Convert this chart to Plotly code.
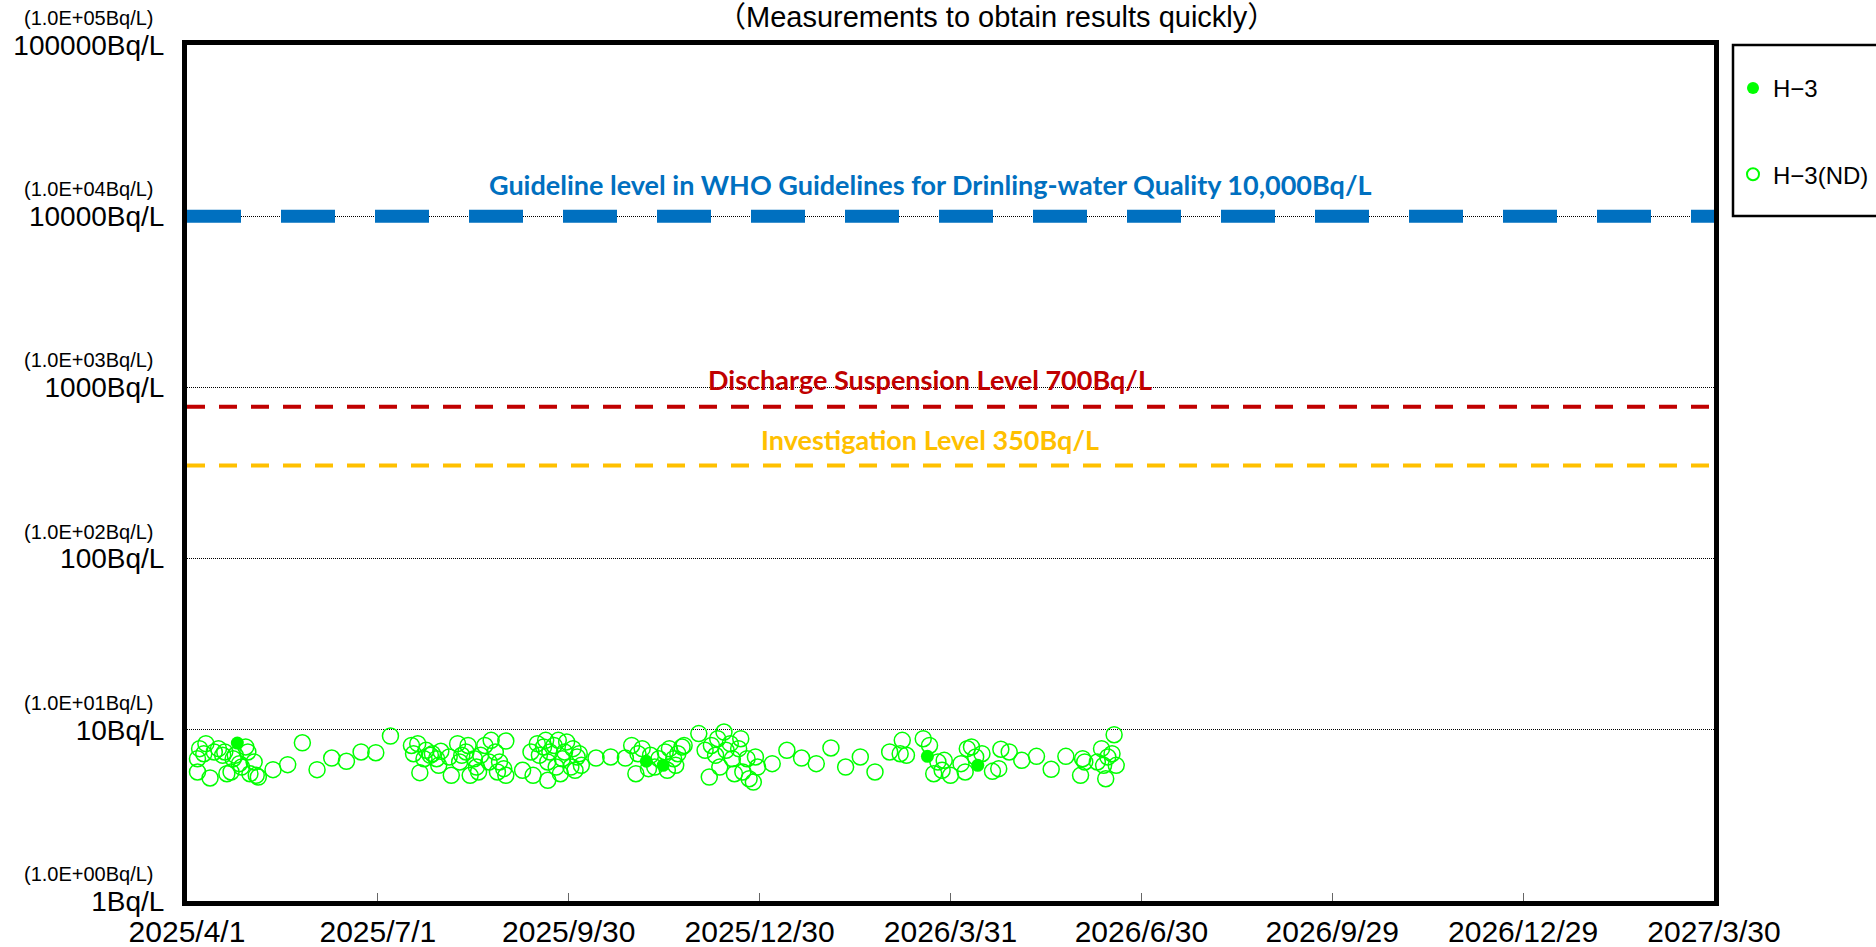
import plotly.graph_objects as go
import pandas as pd
import numpy as np

# ---------------- data ----------------
start_date = "2025-04-01"
end_date = "2027-03-30"

tick_dates = ["2025-04-01", "2025-07-01", "2025-09-30", "2025-12-30", "2026-03-31",
              "2026-06-30", "2026-09-29", "2026-12-29", "2027-03-30"]
tick_labels = ["2025/4/1", "2025/7/1", "2025/9/30", "2025/12/30", "2026/3/31",
               "2026/6/30", "2026/9/29", "2026/12/29", "2027/3/30"]

y_tick_vals = [1, 10, 100, 1000, 10000, 100000]
y_tick_main = ["1Bq/L", "10Bq/L", "100Bq/L", "1000Bq/L", "10000Bq/L", "100000Bq/L"]
y_tick_sub = ["(1.0E+00Bq/L)", "(1.0E+01Bq/L)", "(1.0E+02Bq/L)", "(1.0E+03Bq/L)",
              "(1.0E+04Bq/L)", "(1.0E+05Bq/L)"]

# H-3 (ND) : days since 2025/4/1 and Bq/L
nd_days = [5, 5, 6, 8, 9, 11, 13, 15, 17, 18, 19, 21, 22, 23, 25, 26, 28, 29, 30, 32, 33, 34,
           41, 48, 55, 62, 69, 76, 83, 90, 97,
           107, 108, 110, 111, 113, 114, 116, 117, 119, 120, 121, 125, 126, 129, 130, 131, 133,
           134, 135, 137, 138, 139, 140, 142, 144, 145, 147, 148,
           149, 151, 152, 152, 160, 164, 165, 167, 168, 170, 171, 172, 172, 173, 175, 176, 177,
           178, 179, 180, 181, 183, 184, 185, 186, 187, 188, 195, 202, 209,
           212, 214, 215, 217, 220, 221, 223, 225, 228, 229, 230, 232, 233, 234, 236, 237, 244,
           247, 249, 250, 252, 253, 254, 256, 257, 259, 260, 261, 263, 264, 265, 267, 268, 270,
           271, 272, 279, 286, 293,
           300, 307, 314, 321, 328, 335, 340, 341, 343, 351, 354, 356, 358, 360, 361, 364, 369,
           371, 372, 374, 376, 379, 384, 387, 388, 392, 398, 405, 412, 419, 426, 427, 428, 434,
           436, 437, 438, 439, 441, 442, 443]
nd_values = [6.78, 5.67, 7.76, 7.25, 8.3, 5.23, 7.42, 7.76, 7.1, 7.42, 5.54, 5.67, 6.78, 7.1,
             6.34, 6.06, 7.94, 7.42, 5.54, 6.49, 5.42, 5.3,
             5.85, 6.26, 8.4, 5.85, 6.84, 6.55, 7.42, 7.35, 9.2,
             8.1, 7.25, 8.3, 5.62, 6.78, 7.59, 7.1, 7.25, 6.78, 6.2, 7.49, 6.94, 5.42, 8.3, 6.49,
             7.1, 7.42, 8.1, 5.42, 6.78, 6.06, 5.67, 7.1, 8.1, 6.49, 8.68, 7.42, 5.67,
             6.49, 5.93, 5.42, 8.6, 5.8, 7.42, 5.42, 8.3, 7.1, 7.94, 8.68, 6.49, 5.07, 7.42, 8.1,
             6.06, 8.68, 5.54, 6.78, 7.42, 8.5, 6.06, 7.76, 5.8, 6.94, 7.25, 6.2, 6.84, 6.94, 6.84,
             8.1, 5.54, 7.25, 7.76, 5.93, 7.1, 6.06, 6.78, 7.42, 5.8, 7.76, 6.78, 6.2, 7.25, 7.94,
             8.1, 9.5,
             7.59, 5.3, 8.1, 7.1, 8.87, 6.06, 9.7, 7.59, 8.3, 6.78, 5.54, 7.76, 8.87, 5.67, 6.78,
             5.18, 4.95, 6.94, 6.06, 6.34, 7.59, 6.84,
             6.34, 7.83, 6.06, 6.94, 5.67, 7.42, 7.25, 8.68, 7.1, 8.87, 8.1, 5.54, 6.49, 5.8, 6.63,
             5.42, 6.34, 5.67, 7.76, 7.94, 6.94, 7.25, 5.72, 5.93, 7.7, 7.42, 6.63, 7.0, 5.88, 7.0,
             5.42, 6.78, 6.49, 6.49, 7.76, 6.2, 5.18, 6.94, 7.25, 9.36, 6.2]

# H-3 (detected)
det_days = [24, 219, 227, 353, 377]
det_values = [8.37, 6.55, 6.2, 7.0, 6.2]

# reference levels (position as drawn in the picture)
ref_levels = [10000, 770, 350]
ref_texts = ["Guideline level in WHO Guidelines for Drinling-water Quality 10,000Bq/L",
             "Discharge Suspension Level 700Bq/L",
             "Investigation Level 350Bq/L"]
ref_colors = ["#0070C0", "#C00000", "#FFC000"]
ref_widths = [13, 4, 4]
ref_dashes = ["54px,40px", "18px,14px", "18px,14px"]
ref_label_shift = [32, 27, 26]

title_text = "（Measurements to obtain results quickly）"

# ---------------- figure ----------------
W, H = 1876, 947
L, R, T, B = 187, 162, 45, 46
plot_w = W - L - R
plot_h = H - T - B

base = pd.Timestamp(start_date)
nd_dates = [base + pd.Timedelta(days=d) for d in nd_days]
det_dates = [base + pd.Timedelta(days=d) for d in det_days]

axis_font = "Arial, 'Liberation Sans', 'Noto Sans CJK JP', sans-serif"
label_font = "Lato, 'Open Sans', sans-serif"

fig = go.Figure()

for lvl, col, wd, ds in zip(ref_levels, ref_colors, ref_widths, ref_dashes):
    fig.add_trace(go.Scatter(
        x=[start_date, end_date], y=[lvl, lvl], mode="lines",
        line=dict(color=col, width=wd, dash=ds),
        showlegend=False, hoverinfo="skip"))

fig.add_trace(go.Scatter(
    x=nd_dates, y=nd_values, mode="markers", name="H−3(ND)",
    legendgroup="nd", legendrank=2,
    marker=dict(symbol="circle-open", size=16, color="#00FF00", line=dict(width=1.5, color="#00FF00"))))
fig.add_trace(go.Scatter(
    x=det_dates, y=det_values, mode="markers", name="H−3",
    legendgroup="det", legendrank=1,
    marker=dict(symbol="circle", size=13, color="#00FF00")))

annotations = []
for v, s in zip(y_tick_vals, y_tick_sub):
    annotations.append(dict(
        x=-0.02, xref="paper", xanchor="right",
        y=np.log10(v), yref="y", yanchor="middle", yshift=27,
        text=s, showarrow=False, font=dict(size=20, color="black", family=axis_font)))

for lvl, txt, col, sh in zip(ref_levels, ref_texts, ref_colors, ref_label_shift):
    annotations.append(dict(
        x=0.4866, xref="paper", xanchor="center",
        y=np.log10(lvl), yref="y", yanchor="middle", yshift=sh,
        text="<b>" + txt + "</b>", showarrow=False,
        font=dict(size=27, color=col, family=label_font)))

annotations.append(dict(
    x=(996 - L) / plot_w, xref="paper", xanchor="center",
    y=1 + (T - 17) / plot_h, yref="paper", yanchor="middle",
    text=title_text, showarrow=False,
    font=dict(size=29, color="black", family=axis_font)))

fig.update_layout(
    width=W, height=H,
    margin=dict(l=L, r=R, t=T, b=B, autoexpand=False),
    paper_bgcolor="white", plot_bgcolor="white",
    annotations=annotations,
    legend=dict(
        x=(1733 - L) / plot_w, xanchor="left",
        y=1 - 21 / plot_h, yanchor="top",
        bgcolor="rgba(0,0,0,0)", borderwidth=0,
        font=dict(size=24, color="black", family=axis_font),
        tracegroupgap=52, itemsizing="constant", traceorder="grouped"),
    shapes=[dict(type="rect", xref="paper", yref="paper",
                 x0=(1733 - L) / plot_w, x1=(1990 - L) / plot_w,
                 y0=1 - (216 - T) / plot_h, y1=1.0,
                 line=dict(color="black", width=2.5), fillcolor="rgba(0,0,0,0)", layer="below")],
    showlegend=True,
)

fig.update_xaxes(
    type="date", range=[start_date, end_date],
    tickmode="array", tickvals=tick_dates, ticktext=tick_labels,
    showgrid=False, zeroline=False,
    showline=True, linecolor="black", linewidth=5, mirror=True,
    ticks="inside", ticklen=8, tickwidth=1, tickcolor="#666666",
    tickfont=dict(size=30, color="black", family=axis_font),
    automargin=False,
)
fig.update_yaxes(
    type="log", range=[0, 5],
    tickmode="array", tickvals=y_tick_vals, ticktext=y_tick_main,
    showgrid=True, gridcolor="black", gridwidth=1, griddash="1px,1px",
    zeroline=False,
    showline=True, linecolor="black", linewidth=5, mirror=True,
    ticks="", ticklabelstandoff=12,
    tickfont=dict(size=28, color="black", family=axis_font),
    automargin=False,
)

fig.write_html("out.html", config={"displayModeBar": False},
               post_script="document.body.style.margin='0px';document.body.style.overflow='hidden';")
